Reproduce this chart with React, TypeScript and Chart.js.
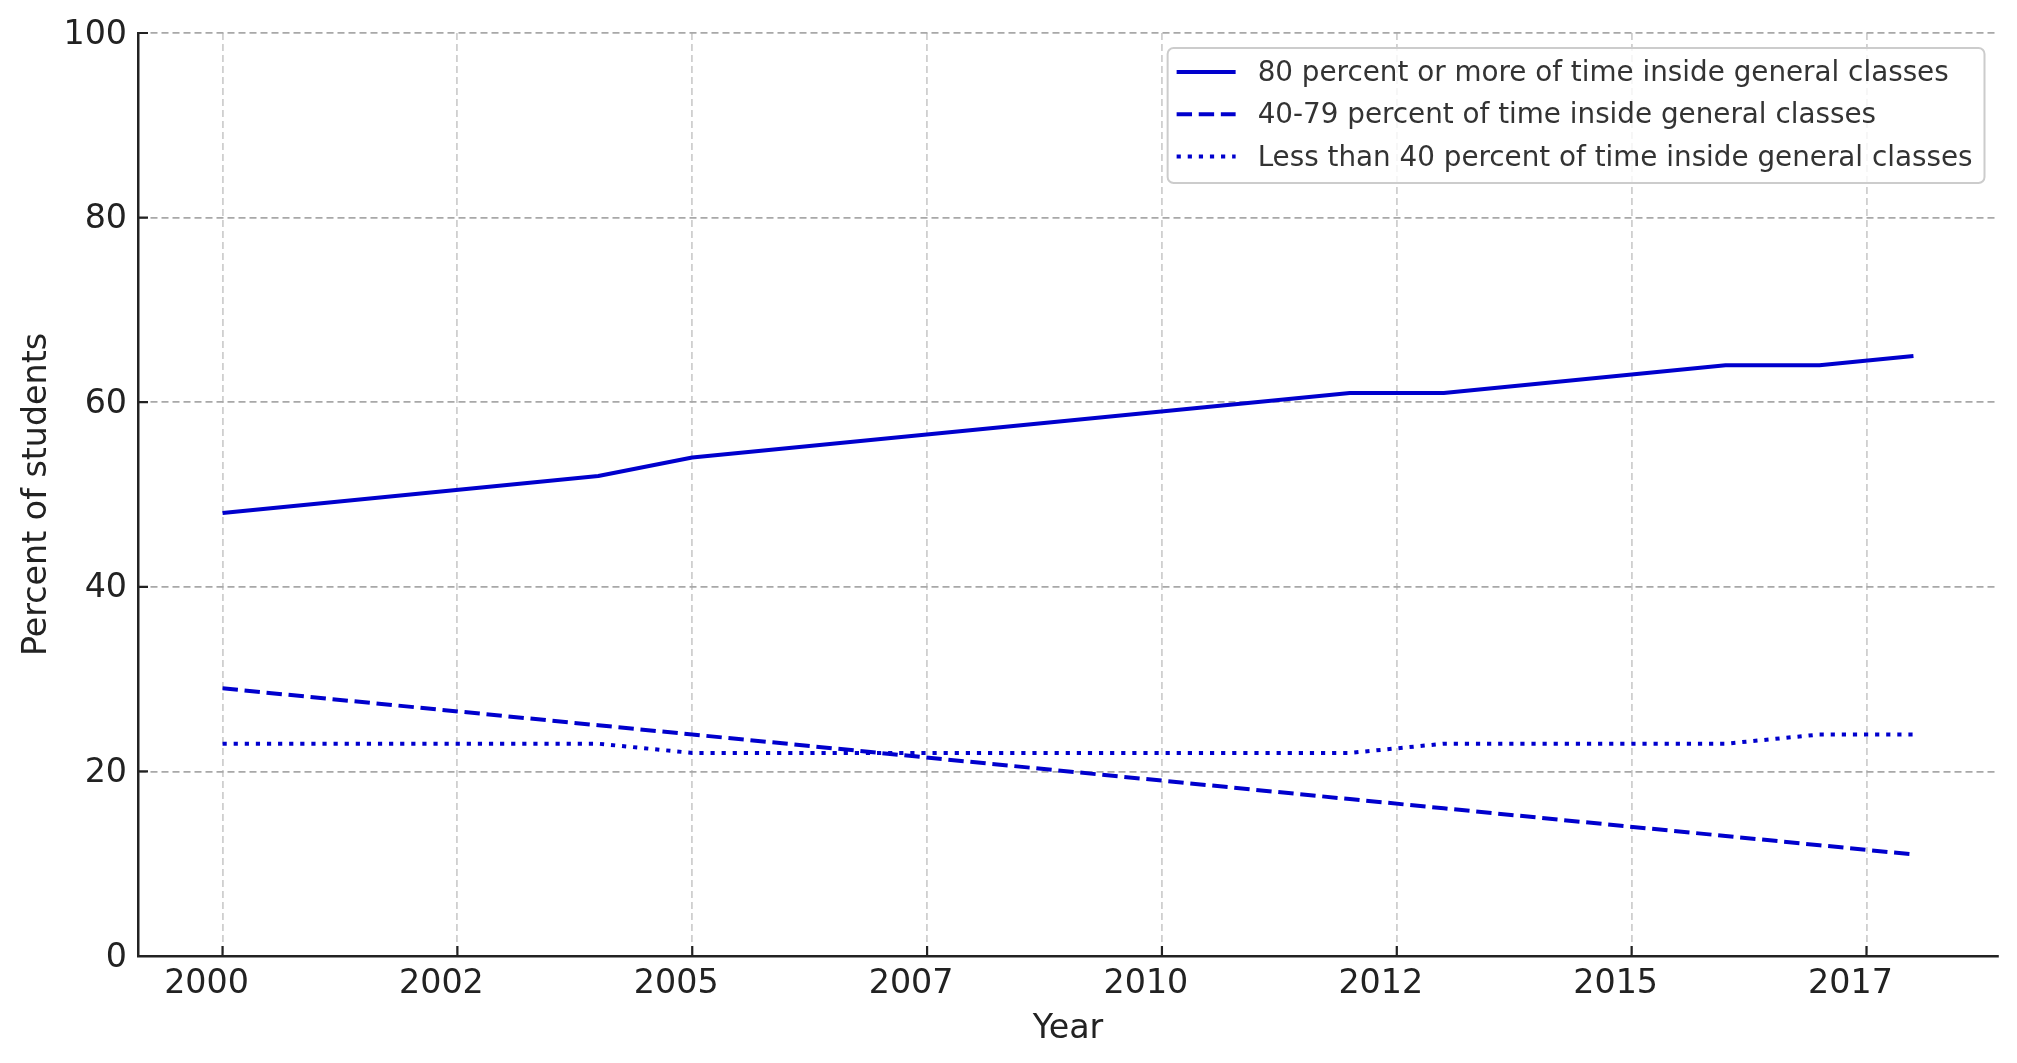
import React, { useEffect, useRef } from 'react';
import { Chart, registerables } from 'chart.js';

Chart.register(...registerables);

// ---- data ----
const YEARS = [2000, 2004, 2005, 2012, 2013, 2016, 2017, 2018];
const SERIES_80_PLUS = [48, 52, 54, 61, 61, 64, 64, 65];
const SERIES_40_79 = [29, 25, 24, 17, 16, 13, 12, 11];
const SERIES_UNDER_40 = [23, 23, 22, 22, 23, 23, 24, 24];
const SERIES_LABELS = [
  '80 percent or more of time inside general classes',
  '40-79 percent of time inside general classes',
  'Less than 40 percent of time inside general classes',
];
const X_TICKS = [2000, 2002.5, 2005, 2007.5, 2010, 2012.5, 2015, 2017.5];
const Y_TICKS = [0, 20, 40, 60, 80, 100];
const X_MIN = 1999.1;
const X_MAX = 2018.9;
const Y_MIN = 0;
const Y_MAX = 100;

const FONT = '"DejaVu Sans", sans-serif';
const LINE_COLOR = '#0000cd';
const TEXT_COLOR = '#222222';

const inwardTicks = {
  id: 'inwardTicks',
  afterDraw(chart: any) {
    const { ctx, chartArea, scales } = chart;
    ctx.save();
    ctx.strokeStyle = TEXT_COLOR;
    ctx.lineWidth = 2.2;
    ctx.setLineDash([]);
    ctx.beginPath();
    scales.x.ticks.forEach((t: any) => {
      const px = scales.x.getPixelForValue(t.value);
      ctx.moveTo(px, chartArea.bottom);
      ctx.lineTo(px, chartArea.bottom - 10);
    });
    scales.y.ticks.forEach((t: any) => {
      const py = scales.y.getPixelForValue(t.value);
      ctx.moveTo(chartArea.left, py);
      ctx.lineTo(chartArea.left + 10, py);
    });
    ctx.stroke();
    ctx.restore();
  },
};

const mplLegend = {
  id: 'mplLegend',
  afterDraw(chart: any) {
    const { ctx, chartArea } = chart;
    const fs = 27.8;
    ctx.save();
    ctx.font = `${fs}px ${FONT}`;
    const items = chart.data.datasets.map((ds: any) => ({
      label: ds.label,
      color: ds.borderColor,
      dash: ds.borderDash || [],
      width: ds.borderWidth,
    }));
    const maxW = Math.max(...items.map((i: any) => ctx.measureText(i.label).width));
    const padL = 9;
    const padR = 12;
    const handle = 59;
    const gap = 22;
    const rowH = 42.2;
    const padTop = 24;
    const padBottom = 26.6;
    const boxW = padL + handle + gap + maxW + padR;
    const boxH = padTop + rowH * (items.length - 1) + padBottom;
    const right = chartArea.right - 13.5;
    const top = chartArea.top + 15;
    const left = right - boxW;
    const r = 6;
    ctx.beginPath();
    ctx.moveTo(left + r, top);
    ctx.lineTo(left + boxW - r, top);
    ctx.arcTo(left + boxW, top, left + boxW, top + r, r);
    ctx.lineTo(left + boxW, top + boxH - r);
    ctx.arcTo(left + boxW, top + boxH, left + boxW - r, top + boxH, r);
    ctx.lineTo(left + r, top + boxH);
    ctx.arcTo(left, top + boxH, left, top + boxH - r, r);
    ctx.lineTo(left, top + r);
    ctx.arcTo(left, top, left + r, top, r);
    ctx.closePath();
    ctx.fillStyle = 'rgba(255,255,255,0.8)';
    ctx.fill();
    ctx.strokeStyle = '#cccccc';
    ctx.lineWidth = 2;
    ctx.setLineDash([]);
    ctx.stroke();

    items.forEach((it: any, i: number) => {
      const y = top + padTop + i * rowH;
      const x0 = left + padL;
      ctx.beginPath();
      ctx.setLineDash(it.dash);
      ctx.lineDashOffset = 0;
      ctx.strokeStyle = it.color;
      ctx.lineWidth = it.width;
      ctx.lineCap = 'butt';
      ctx.moveTo(x0, y);
      ctx.lineTo(x0 + handle, y);
      ctx.stroke();
      ctx.setLineDash([]);
      ctx.fillStyle = '#333333';
      ctx.textBaseline = 'middle';
      ctx.textAlign = 'left';
      ctx.fillText(it.label, x0 + handle + gap, y + 2);
    });
    ctx.restore();
  },
};

export default function App() {
  const ref = useRef<HTMLCanvasElement>(null);

  useEffect(() => {
    document.body.style.margin = '0';
    document.body.style.overflow = 'hidden';
    const canvas = ref.current;
    if (!canvas) return;
    const toPts = (ys: number[]) => YEARS.map((x, i) => ({ x, y: ys[i] }));
    const base = {
      borderColor: LINE_COLOR,
      backgroundColor: LINE_COLOR,
      borderWidth: 4,
      pointRadius: 0,
      pointHoverRadius: 0,
      fill: false,
      tension: 0,
      borderCapStyle: 'butt' as const,
      borderJoinStyle: 'round' as const,
    };
    const chart = new Chart(canvas, {
      type: 'line',
      data: {
        datasets: [
          { ...base, label: SERIES_LABELS[0], data: toPts(SERIES_80_PLUS), borderDash: [] },
          { ...base, label: SERIES_LABELS[1], data: toPts(SERIES_40_79), borderDash: [15.4, 6.7] },
          { ...base, label: SERIES_LABELS[2], data: toPts(SERIES_UNDER_40), borderDash: [4.2, 6.9] },
        ],
      },
      options: {
        responsive: false,
        animation: false,
        devicePixelRatio: 1,
        layout: { padding: { top: 33, right: 19, left: 0, bottom: 0 } },
        plugins: {
          legend: { display: false },
          tooltip: { enabled: false },
        },
        scales: {
          x: {
            type: 'linear',
            min: X_MIN,
            max: X_MAX,
            afterBuildTicks: (s: any) => {
              s.ticks = X_TICKS.map((v) => ({ value: v }));
            },
            afterFit: (s: any) => {
              s.height = 107;
            },
            ticks: {
              callback: (v: any) => String(Math.floor(Number(v))),
              font: { family: FONT, size: 33.3 },
              color: TEXT_COLOR,
              padding: 8,
              labelOffset: -16,
              maxRotation: 0,
              autoSkip: false,
            },
            grid: { color: '#cfcfcf', lineWidth: 1.8, drawTicks: false },
            border: { display: true, color: TEXT_COLOR, width: 2.5, dash: [7, 4] },
            title: {
              display: true,
              text: 'Year',
              font: { family: FONT, size: 33.3 },
              color: TEXT_COLOR,
              padding: { top: 0, bottom: 14 },
            },
          },
          y: {
            type: 'linear',
            min: Y_MIN,
            max: Y_MAX,
            afterBuildTicks: (s: any) => {
              s.ticks = Y_TICKS.map((v) => ({ value: v }));
            },
            afterFit: (s: any) => {
              s.width = 138;
            },
            ticks: {
              font: { family: FONT, size: 33.3 },
              color: TEXT_COLOR,
              padding: 11,
              labelOffset: 2,
            },
            grid: { color: '#a8a8a8', lineWidth: 1.8, drawTicks: false },
            border: { display: true, color: TEXT_COLOR, width: 2.5, dash: [7, 4] },
            title: {
              display: true,
              text: 'Percent of students',
              font: { family: FONT, size: 33.3 },
              color: TEXT_COLOR,
              padding: { top: 17, bottom: 0 },
            },
          },
        },
      },
      plugins: [inwardTicks, mplLegend],
    } as any);
    return () => chart.destroy();
  }, []);

  return (
    <div style={{ width: 2017, height: 1063 }}>
      <canvas ref={ref} width={2017} height={1063} style={{ display: 'block', width: 2017, height: 1063 }} />
    </div>
  );
}
